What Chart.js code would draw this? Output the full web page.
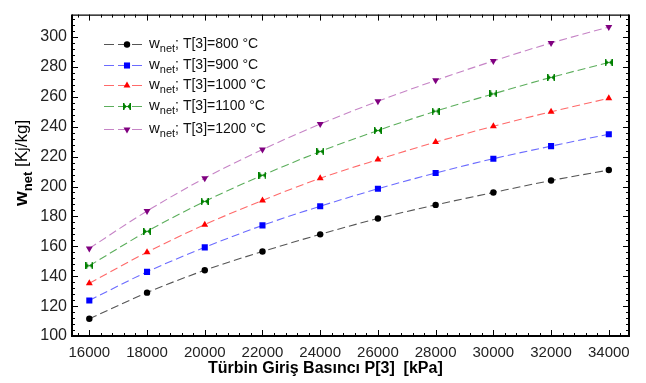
<!DOCTYPE html>
<html>
<head>
<meta charset="utf-8">
<script src="https://cdn.jsdelivr.net/npm/chart.js@4"></script>
<style>
  html, body { margin: 0; padding: 0; background: #ffffff; }
  #wrap { width: 646px; height: 383px; }
</style>
</head>
<body>
<div id="wrap"><canvas id="wnetChart" width="646" height="383"></canvas></div>
<script>
// Türbin giriş basıncı (kPa)
const pressures = [16000, 18000, 20000, 22000, 24000, 26000, 28000, 30000, 32000, 34000];

// Net iş (kJ/kg), her türbin giriş sıcaklığı için
const wnet800  = [111.5, 129, 144, 156.5, 168, 178.6, 187.7, 196, 204, 211];
const wnet900  = [123.8, 142.9, 159.3, 174, 186.8, 198.5, 209, 218.6, 227, 235];
const wnet1000 = [135.3, 156, 174.5, 190.7, 205.5, 218, 229.7, 240.3, 250, 259];
const wnet1100 = [147, 170, 190, 207.5, 223.4, 237.5, 250.4, 262, 273, 283];
const wnet1200 = [158.6, 183.6, 205.6, 224.7, 241.8, 257, 271, 284, 296, 306.7];

const temps = ['800', '900', '1000', '1100', '1200'];

// Eksen etiketleri
const xTicks = [16000, 18000, 20000, 22000, 24000, 26000, 28000, 30000, 32000, 34000];
const yTicks = [100, 120, 140, 160, 180, 200, 220, 240, 260, 280, 300];

// Yeşil seri için papyon işareti
function bowtie(color) {
    const c = document.createElement('canvas');
    c.width = 8; c.height = 7;
    const g = c.getContext('2d');
    g.fillStyle = color;
    g.beginPath();
    g.moveTo(0, 0); g.lineTo(8, 7); g.lineTo(8, 0); g.lineTo(0, 7);
    g.closePath();
    g.fill();
    g.fillRect(0, 0, 1.5, 7);
    g.fillRect(6.5, 0, 1.5, 7);
    return c;
}

const series = [
    { data: wnet800,  line: '#555555', mark: '#000000', style: 'circle',   radius: 3.2, rot: 0 },
    { data: wnet900,  line: '#6b6bff', mark: '#0000ff', style: 'rect',     radius: 4.3, rot: 0 },
    { data: wnet1000, line: '#ff6a6a', mark: '#ff0000', style: 'triangle', radius: 4,   rot: 0 },
    { data: wnet1100, line: '#5cae5c', mark: '#008000', style: bowtie('#008000'), radius: 4, rot: 0 },
    { data: wnet1200, line: '#c684c6', mark: '#800080', style: 'triangle', radius: 4,   rot: 180 }
];

const datasets = series.map((s, i) => ({
    label: 'wnet; T[3]=' + temps[i] + ' °C',
    data: pressures.map((p, j) => ({ x: p, y: s.data[j] })),
    borderColor: s.line,
    borderWidth: 1.1,
    borderDash: [8, 4],
    backgroundColor: s.mark,
    pointBackgroundColor: s.mark,
    pointBorderColor: s.mark,
    pointBorderWidth: 0,
    pointStyle: s.style,
    pointRadius: s.radius,
    pointRotation: s.rot,
    cubicInterpolationMode: 'monotone',
    fill: false
}));

// İç tik işaretleri, çerçeve, eksen başlıkları ve lejant
const decor = {
    id: 'decor',
    afterDraw(chart) {
        const ctx = chart.ctx;
        const a = chart.chartArea;
        const xs = chart.scales.x, ys = chart.scales.y;
        ctx.save();
        ctx.strokeStyle = '#000000';
        ctx.lineWidth = 1;
        ctx.beginPath();
        for (let v = 15600; v <= 34600; v += 400) {
            const px = Math.round(xs.getPixelForValue(v)) + 0.5;
            const len = (v % 2000 === 0) ? 6 : 3;
            ctx.moveTo(px, a.bottom); ctx.lineTo(px, a.bottom - len);
            ctx.moveTo(px, a.top); ctx.lineTo(px, a.top + len);
        }
        for (let v = 104; v <= 314; v += 4) {
            const py = Math.round(ys.getPixelForValue(v)) + 0.5;
            const len = (v % 20 === 0) ? 6 : 3;
            ctx.moveTo(a.left, py); ctx.lineTo(a.left + len, py);
            ctx.moveTo(a.right, py); ctx.lineTo(a.right - len, py);
        }
        ctx.stroke();

        // Çerçeve
        ctx.lineWidth = 2;
        ctx.beginPath();
        ctx.moveTo(a.left, a.top); ctx.lineTo(a.left, a.bottom);
        ctx.lineTo(a.right, a.bottom); ctx.lineTo(a.right, a.top);
        ctx.stroke();
        ctx.lineWidth = 1.2;
        ctx.beginPath();
        ctx.moveTo(a.left, a.top + 0.5); ctx.lineTo(a.right, a.top + 0.5);
        ctx.stroke();

        // X ekseni başlığı
        ctx.fillStyle = '#000000';
        ctx.font = 'bold 16px "Liberation Sans", Arial, sans-serif';
        ctx.textAlign = 'left';
        ctx.textBaseline = 'alphabetic';
        ctx.fillText('Türbin Giriş Basıncı P[3]  [kPa]', 208, 373);

        // Y ekseni başlığı (alt simgeli)
        ctx.translate(27, 206);
        ctx.rotate(-Math.PI / 2);
        ctx.font = 'bold 19px "Liberation Sans", Arial, sans-serif';
        ctx.fillText('w', 0, 0);
        let x = ctx.measureText('w').width;
        ctx.font = 'bold 13px "Liberation Sans", Arial, sans-serif';
        ctx.fillText('net', x, 5);
        x += ctx.measureText('net').width;
        ctx.font = '17px "Liberation Sans", Arial, sans-serif';
        ctx.fillText(' [Kj/kg]', x, 0);
        ctx.setTransform(1, 0, 0, 1, 0, 0);

        // Lejant
        const rows = [44, 65, 85, 106, 129];
        chart.data.datasets.forEach((ds, i) => {
            const y = rows[i];
            ctx.strokeStyle = ds.borderColor;
            ctx.lineWidth = 1.1;
            ctx.setLineDash([10, 4]);
            ctx.beginPath();
            ctx.moveTo(104, y + 0.5); ctx.lineTo(146, y + 0.5);
            ctx.stroke();
            ctx.setLineDash([]);
            ctx.fillStyle = ds.pointBackgroundColor;
            Chart.helpers.drawPoint(ctx, {
                pointStyle: ds.pointStyle,
                radius: ds.pointRadius,
                rotation: ds.pointRotation,
                borderWidth: 0
            }, 127, y + 0.5);
            ctx.fillStyle = '#111111';
            ctx.font = '15px "Liberation Sans", Arial, sans-serif';
            let tx = 149;
            ctx.fillText('w', tx, y + 4);
            tx += ctx.measureText('w').width;
            ctx.font = '11px "Liberation Sans", Arial, sans-serif';
            ctx.fillText('net', tx, y + 8);
            tx += ctx.measureText('net').width;
            ctx.font = '14px "Liberation Sans", Arial, sans-serif';
            ctx.fillText('; T[3]=' + temps[i] + ' °C', tx, y + 4);
        });
        ctx.restore();
    }
};

new Chart(document.getElementById('wnetChart'), {
    type: 'line',
    data: { datasets: datasets },
    plugins: [decor],
    options: {
        responsive: false,
        animation: false,
        layout: { padding: { left: 0, top: 5, right: 17, bottom: 0 } },
        plugins: {
            legend: { display: false },
            tooltip: { enabled: false }
        },
        scales: {
            x: {
                type: 'linear',
                min: 15400,
                max: 34700,
                border: { display: false },
                grid: { display: false, drawTicks: false },
                afterBuildTicks: (scale) => { scale.ticks = xTicks.map(v => ({ value: v })); },
                afterFit: (scale) => { scale.height = 47; },
                ticks: {
                    padding: 8,
                    maxRotation: 0,
                    color: '#222222',
                    font: { family: '"Liberation Sans", Arial, sans-serif', size: 15 },
                    callback: (v) => String(v)
                }
            },
            y: {
                min: 100,
                max: 315,
                border: { display: false },
                grid: { display: false, drawTicks: false },
                afterBuildTicks: (scale) => { scale.ticks = yTicks.map(v => ({ value: v })); },
                afterFit: (scale) => { scale.width = 72; },
                ticks: {
                    padding: 5,
                    color: '#222222',
                    font: { family: '"Liberation Sans", Arial, sans-serif', size: 16 }
                }
            }
        }
    }
});
</script>
</body>
</html>
